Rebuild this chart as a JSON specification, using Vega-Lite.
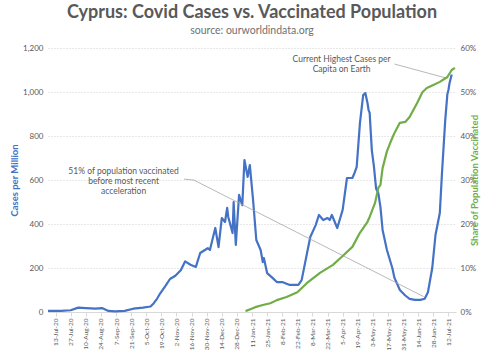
{
  "$schema": "https://vega.github.io/schema/vega-lite/v6.json",
  "autosize": "none",
  "width": 408,
  "height": 264,
  "padding": {"left": 48, "top": 48, "right": 44, "bottom": 41},
  "background": "white",
  "title": {
    "text": "Cyprus: Covid Cases vs. Vaccinated Population",
    "subtitle": "source: ourworldindata.org",
    "font": "Lato",
    "fontSize": 18,
    "fontWeight": "bold",
    "color": "#595959",
    "subtitleFont": "Lato",
    "subtitleFontSize": 10.5,
    "subtitleColor": "#707070",
    "subtitlePadding": 4,
    "anchor": "middle",
    "offset": 8
  },
  "config": {
    "view": {"stroke": null},
    "font": "Lato",
    "axis": {"labelFont": "Lato", "titleFont": "Lato"}
  },
  "datasets": {
    "cases": [
      {"date": "2020-07-06", "v": 5}, {"date": "2020-07-18", "v": 5}, {"date": "2020-07-27", "v": 8},
      {"date": "2020-08-03", "v": 20}, {"date": "2020-08-10", "v": 18}, {"date": "2020-08-19", "v": 15},
      {"date": "2020-08-25", "v": 18}, {"date": "2020-08-31", "v": 5}, {"date": "2020-09-06", "v": 3},
      {"date": "2020-09-15", "v": 5}, {"date": "2020-09-23", "v": 15}, {"date": "2020-10-02", "v": 20},
      {"date": "2020-10-09", "v": 25}, {"date": "2020-10-12", "v": 40}, {"date": "2020-10-15", "v": 60},
      {"date": "2020-10-18", "v": 85}, {"date": "2020-10-23", "v": 120}, {"date": "2020-10-27", "v": 150},
      {"date": "2020-11-01", "v": 165}, {"date": "2020-11-06", "v": 190}, {"date": "2020-11-10", "v": 230},
      {"date": "2020-11-15", "v": 215}, {"date": "2020-11-20", "v": 205}, {"date": "2020-11-24", "v": 268},
      {"date": "2020-12-01", "v": 290}, {"date": "2020-12-03", "v": 282}, {"date": "2020-12-08", "v": 382},
      {"date": "2020-12-11", "v": 295}, {"date": "2020-12-14", "v": 427}, {"date": "2020-12-17", "v": 409},
      {"date": "2020-12-19", "v": 473}, {"date": "2020-12-20", "v": 432}, {"date": "2020-12-24", "v": 359},
      {"date": "2020-12-25", "v": 500}, {"date": "2020-12-27", "v": 305}, {"date": "2020-12-30", "v": 532},
      {"date": "2021-01-02", "v": 486}, {"date": "2021-01-04", "v": 691}, {"date": "2021-01-07", "v": 614},
      {"date": "2021-01-09", "v": 668}, {"date": "2021-01-10", "v": 614}, {"date": "2021-01-12", "v": 509},
      {"date": "2021-01-15", "v": 327}, {"date": "2021-01-19", "v": 282}, {"date": "2021-01-21", "v": 227},
      {"date": "2021-01-22", "v": 245}, {"date": "2021-01-25", "v": 177}, {"date": "2021-01-30", "v": 155},
      {"date": "2021-02-03", "v": 136}, {"date": "2021-02-08", "v": 136}, {"date": "2021-02-15", "v": 123},
      {"date": "2021-02-23", "v": 123}, {"date": "2021-02-26", "v": 145}, {"date": "2021-03-03", "v": 268},
      {"date": "2021-03-06", "v": 341}, {"date": "2021-03-11", "v": 395}, {"date": "2021-03-14", "v": 441},
      {"date": "2021-03-18", "v": 418}, {"date": "2021-03-22", "v": 427}, {"date": "2021-03-24", "v": 418},
      {"date": "2021-03-26", "v": 441}, {"date": "2021-03-31", "v": 382}, {"date": "2021-04-05", "v": 464},
      {"date": "2021-04-09", "v": 609}, {"date": "2021-04-14", "v": 609}, {"date": "2021-04-16", "v": 632},
      {"date": "2021-04-18", "v": 660}, {"date": "2021-04-21", "v": 859}, {"date": "2021-04-24", "v": 986},
      {"date": "2021-04-26", "v": 995}, {"date": "2021-04-28", "v": 950}, {"date": "2021-04-29", "v": 918},
      {"date": "2021-04-30", "v": 905}, {"date": "2021-05-02", "v": 736}, {"date": "2021-05-04", "v": 660},
      {"date": "2021-05-06", "v": 560}, {"date": "2021-05-08", "v": 541}, {"date": "2021-05-10", "v": 477},
      {"date": "2021-05-12", "v": 373}, {"date": "2021-05-16", "v": 282}, {"date": "2021-05-21", "v": 200},
      {"date": "2021-05-23", "v": 155}, {"date": "2021-05-28", "v": 100}, {"date": "2021-06-02", "v": 75},
      {"date": "2021-06-06", "v": 60}, {"date": "2021-06-11", "v": 55}, {"date": "2021-06-16", "v": 55},
      {"date": "2021-06-20", "v": 60}, {"date": "2021-06-23", "v": 90}, {"date": "2021-06-27", "v": 200},
      {"date": "2021-06-30", "v": 350}, {"date": "2021-07-04", "v": 450}, {"date": "2021-07-06", "v": 630},
      {"date": "2021-07-09", "v": 870}, {"date": "2021-07-11", "v": 990}, {"date": "2021-07-12", "v": 1009},
      {"date": "2021-07-13", "v": 1040}, {"date": "2021-07-15", "v": 1080}
    ],
    "vacc": [
      {"date": "2021-01-05", "s": 0.002}, {"date": "2021-01-10", "s": 0.007}, {"date": "2021-01-14", "s": 0.011},
      {"date": "2021-01-21", "s": 0.016}, {"date": "2021-01-28", "s": 0.020}, {"date": "2021-02-03", "s": 0.027},
      {"date": "2021-02-12", "s": 0.034}, {"date": "2021-02-22", "s": 0.045}, {"date": "2021-03-03", "s": 0.066},
      {"date": "2021-03-15", "s": 0.089}, {"date": "2021-03-27", "s": 0.107}, {"date": "2021-04-04", "s": 0.125},
      {"date": "2021-04-14", "s": 0.148}, {"date": "2021-04-21", "s": 0.180}, {"date": "2021-04-28", "s": 0.205},
      {"date": "2021-04-30", "s": 0.216}, {"date": "2021-05-05", "s": 0.248}, {"date": "2021-05-08", "s": 0.282},
      {"date": "2021-05-10", "s": 0.289}, {"date": "2021-05-12", "s": 0.327}, {"date": "2021-05-16", "s": 0.365},
      {"date": "2021-05-19", "s": 0.384}, {"date": "2021-05-23", "s": 0.407}, {"date": "2021-05-28", "s": 0.430},
      {"date": "2021-06-02", "s": 0.432}, {"date": "2021-06-06", "s": 0.443}, {"date": "2021-06-13", "s": 0.475},
      {"date": "2021-06-18", "s": 0.500}, {"date": "2021-06-22", "s": 0.509}, {"date": "2021-06-28", "s": 0.516},
      {"date": "2021-07-04", "s": 0.523}, {"date": "2021-07-11", "s": 0.534}, {"date": "2021-07-15", "s": 0.550},
      {"date": "2021-07-18", "s": 0.555}
    ],
    "callouts": [
      {"date": "2020-11-09", "v": 604, "g": "a"}, {"date": "2020-11-18", "v": 600, "g": "a"}, {"date": "2021-06-19", "v": 70, "g": "a"},
      {"date": "2021-05-23", "v": 1127, "g": "b"}, {"date": "2021-07-11", "v": 1062, "g": "b"}
    ],
    "notes": [
      {"date": "2021-04-04", "v": 1166, "t": "Current Highest Cases per\nCapita on Earth"},
      {"date": "2020-09-14", "v": 659, "t": "51% of population vaccinated\nbefore most recent\nacceleration"}
    ]
  },
  "encoding": {
    "x": {
      "field": "date",
      "type": "temporal",
      "scale": {
        "type": "utc",
        "domain": [
          {"year": 2020, "month": 7, "date": 6, "utc": true},
          {"year": 2021, "month": 7, "date": 19, "utc": true}
        ]
      },
      "axis": {
        "title": null,
        "grid": false,
        "labelExpr": "utcFormat(datum.value, '%-d-%b-%y')",
        "labelAngle": 270,
        "labelFontSize": 6.5,
        "labelColor": "#595959",
        "labelPadding": 2,
        "tickSize": 4,
        "tickColor": "#d9d9d9",
        "domainColor": "#d9d9d9",
        "labelOverlap": false,
        "values": [
          {"year": 2020, "month": 7, "date": 13, "utc": true}, {"year": 2020, "month": 7, "date": 27, "utc": true},
          {"year": 2020, "month": 8, "date": 10, "utc": true}, {"year": 2020, "month": 8, "date": 24, "utc": true},
          {"year": 2020, "month": 9, "date": 7, "utc": true}, {"year": 2020, "month": 9, "date": 21, "utc": true},
          {"year": 2020, "month": 10, "date": 5, "utc": true}, {"year": 2020, "month": 10, "date": 19, "utc": true},
          {"year": 2020, "month": 11, "date": 2, "utc": true}, {"year": 2020, "month": 11, "date": 16, "utc": true},
          {"year": 2020, "month": 11, "date": 30, "utc": true}, {"year": 2020, "month": 12, "date": 14, "utc": true},
          {"year": 2020, "month": 12, "date": 28, "utc": true}, {"year": 2021, "month": 1, "date": 11, "utc": true},
          {"year": 2021, "month": 1, "date": 25, "utc": true}, {"year": 2021, "month": 2, "date": 8, "utc": true},
          {"year": 2021, "month": 2, "date": 22, "utc": true}, {"year": 2021, "month": 3, "date": 8, "utc": true},
          {"year": 2021, "month": 3, "date": 22, "utc": true}, {"year": 2021, "month": 4, "date": 5, "utc": true},
          {"year": 2021, "month": 4, "date": 19, "utc": true}, {"year": 2021, "month": 5, "date": 3, "utc": true},
          {"year": 2021, "month": 5, "date": 17, "utc": true}, {"year": 2021, "month": 5, "date": 31, "utc": true},
          {"year": 2021, "month": 6, "date": 14, "utc": true}, {"year": 2021, "month": 6, "date": 28, "utc": true},
          {"year": 2021, "month": 7, "date": 12, "utc": true}
        ]
      }
    }
  },
  "layer": [
    {
      "data": {"name": "cases"},
      "mark": {"type": "line", "color": "#4472C4", "strokeWidth": 2.2, "strokeJoin": "round"},
      "encoding": {
        "y": {
          "field": "v",
          "type": "quantitative",
          "scale": {"domain": [0, 1200], "nice": false},
          "axis": {
            "title": "Cases per Million",
            "titleColor": "#4472C4",
            "titleFontSize": 9.5,
            "titleFontWeight": "bold",
            "titlePadding": 3,
            "values": [0, 200, 400, 600, 800, 1000, 1200],
            "labelExpr": "format(datum.value, ',.0f')",
            "labelFontSize": 8,
            "labelColor": "#595959",
            "labelPadding": 5,
            "ticks": false,
            "domain": false,
            "grid": true,
            "gridColor": "#d0d0d0",
            "gridDash": [1, 2]
          }
        }
      }
    },
    {
      "data": {"name": "callouts"},
      "mark": {"type": "line", "color": "#a6a6a6", "strokeWidth": 0.8},
      "encoding": {
        "y": {"field": "v", "type": "quantitative", "scale": {"domain": [0, 1200], "nice": false}, "axis": null},
        "detail": {"field": "g"}
      }
    },
    {
      "data": {"name": "notes"},
      "mark": {"type": "text", "align": "center", "baseline": "top", "lineBreak": "\n", "fontSize": 8.5, "lineHeight": 10, "color": "#595959"},
      "encoding": {
        "y": {"field": "v", "type": "quantitative", "scale": {"domain": [0, 1200], "nice": false}, "axis": null},
        "text": {"field": "t"}
      }
    },
    {
      "data": {"name": "vacc"},
      "mark": {"type": "line", "color": "#70AD47", "strokeWidth": 2.2, "strokeJoin": "round"},
      "encoding": {
        "y": {
          "field": "s",
          "type": "quantitative",
          "scale": {"domain": [0, 0.6], "nice": false},
          "axis": {
            "orient": "right",
            "title": "Share of Population Vaccinated",
            "titleColor": "#70AD47",
            "titleFontSize": 9.5,
            "titleFontWeight": "bold",
            "titleAngle": 270,
            "titlePadding": 4,
            "values": [0, 0.1, 0.2, 0.3, 0.4, 0.5, 0.6],
            "format": ".0%",
            "labelFontSize": 8,
            "labelColor": "#595959",
            "labelPadding": 4,
            "ticks": false,
            "domain": false,
            "grid": false
          }
        }
      }
    }
  ],
  "resolve": {"scale": {"y": "independent"}}
}
